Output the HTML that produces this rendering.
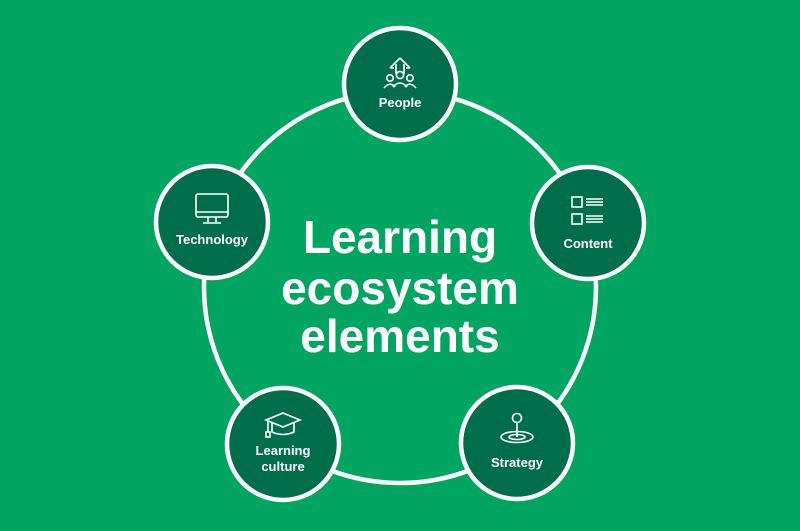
<!DOCTYPE html>
<html><head><meta charset="utf-8"><style>
body{margin:0;width:800px;height:531px;background:#00a562;overflow:hidden}
svg{display:block}
text{font-family:"Liberation Sans",sans-serif;font-weight:bold;fill:#fff;text-anchor:middle}
</style></head><body>
<svg width="800" height="531" viewBox="0 0 800 531">
<rect width="800" height="531" fill="#00a562"/>
<circle cx="400" cy="287" r="196" fill="none" stroke="#fff" stroke-width="4.5"/>
<g fill="#006e4b" stroke="#fff" stroke-width="4.5">
<circle cx="400" cy="84" r="56"/>
<circle cx="212" cy="222" r="56"/>
<circle cx="588" cy="223" r="56"/>
<circle cx="283" cy="444" r="56"/>
<circle cx="517" cy="443" r="56"/>
</g>
<text x="400" y="253" font-size="46">Learning</text>
<text x="400" y="304" font-size="46">ecosystem</text>
<text x="400" y="352" font-size="46">elements</text>
<text x="400" y="107" font-size="13">People</text>
<text x="212" y="244" font-size="13">Technology</text>
<text x="588" y="248" font-size="13">Content</text>
<text x="283" y="455" font-size="13">Learning</text>
<text x="283" y="471" font-size="13">culture</text>
<text x="517" y="467" font-size="13">Strategy</text>
<g fill="none" stroke="#fff" stroke-width="1.6">
<path d="M400 58 L390 68 M400 58 L410 68 M396 64 L396 74 M404 64 L404 74 M390 68 L394 68 M406 68 L410 68"/>
<circle cx="390" cy="78" r="3.2"/><circle cx="400" cy="75" r="3.6"/><circle cx="410" cy="78" r="3.2"/>
<path d="M384 88 Q390 81 395 87 M393 87 Q400 79 407 87 M405 87 Q410 81 416 88"/>
<rect x="196" y="194" width="32" height="23" rx="2"/>
<path d="M196 212 H228 M208 217 V222 M216 217 V222 M203 223 H221"/>
<rect x="572" y="197" width="10" height="10"/><rect x="572" y="214" width="10" height="10"/>
<path d="M586 199 H603 M586 202 H603 M586 205 H603 M586 216 H603 M586 219 H603 M586 222 H603"/>
<path d="M266 420 L283 413 L300 420 L283 427 Z M272 423 V432 Q283 437 294 432 V423 M268 421 V432"/>
<rect x="266" y="432" width="4" height="5"/>
<circle cx="517" cy="418" r="4.5"/>
<path d="M517 422.5 V437"/>
<ellipse cx="517" cy="437" rx="16" ry="5.5"/>
<ellipse cx="517" cy="437" rx="8" ry="2.5"/>
</g>
</svg>
</body></html>
